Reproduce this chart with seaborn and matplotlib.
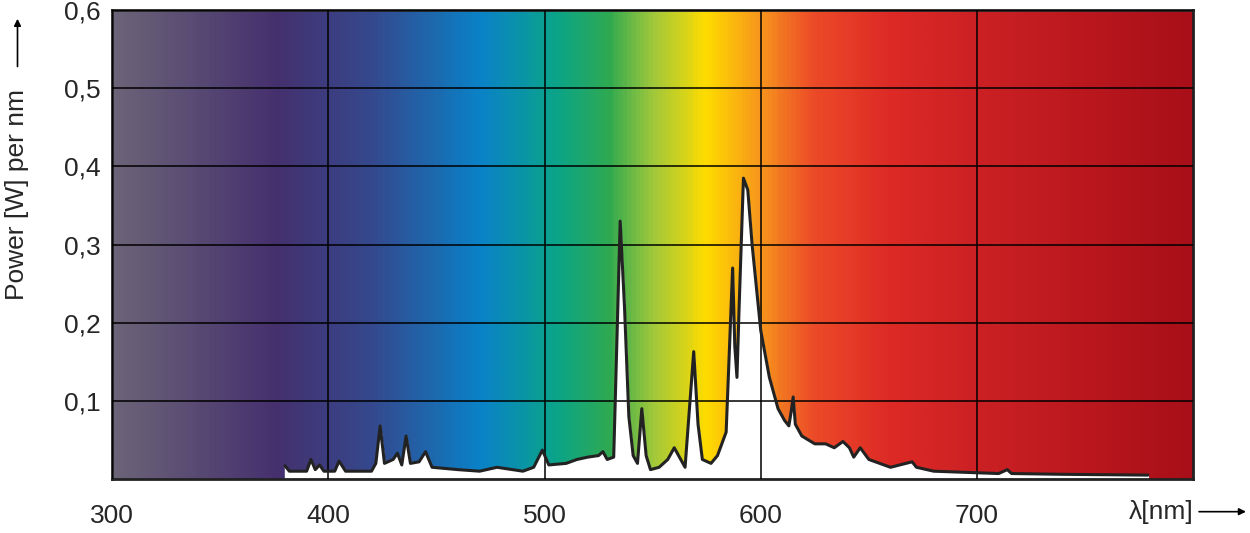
import matplotlib.pyplot as plt
import numpy as np
import pandas as pd
import seaborn as sns
from matplotlib.colors import LinearSegmentedColormap

sns.set_style('white')
plt.rcParams['font.family'] = ['Liberation Sans', 'DejaVu Sans']

# spectrum
wavelength = [380, 382, 390, 392, 394, 396, 398, 403, 405, 408, 420, 422, 424, 426, 430, 432,
              434, 436, 438, 442, 445, 448, 460, 470, 478, 490, 495, 499, 502, 510, 515,
              520, 525, 527, 529, 532, 535, 537, 539, 541, 543, 545, 547, 549, 553, 557,
              560, 562, 565, 569, 571, 573, 577, 580, 584, 587, 588, 589, 590, 592, 594,
              596, 600, 604, 608, 611, 613, 614, 615, 616, 619, 625, 630, 634, 638, 641,
              643, 646, 650, 660, 670, 672, 680, 700, 710, 714, 716, 740, 779]
power = [0.017, 0.010, 0.010, 0.025, 0.012, 0.018, 0.010, 0.010, 0.023, 0.010, 0.010, 0.020,
         0.068, 0.020, 0.025, 0.033, 0.018, 0.055, 0.020, 0.022, 0.035, 0.015, 0.012, 0.010,
         0.015, 0.010, 0.015, 0.037, 0.018, 0.020, 0.025, 0.028, 0.030, 0.035, 0.025, 0.028,
         0.330, 0.220, 0.080, 0.030, 0.020, 0.090, 0.030, 0.012, 0.015, 0.025, 0.040, 0.030,
         0.015, 0.163, 0.070, 0.025, 0.020, 0.030, 0.060, 0.270, 0.170, 0.130, 0.220, 0.385,
         0.370, 0.300, 0.190, 0.130, 0.090, 0.075, 0.068, 0.085, 0.105, 0.070, 0.055, 0.045,
         0.045, 0.040, 0.048, 0.040, 0.028, 0.040, 0.025, 0.015, 0.022, 0.015, 0.010, 0.008,
         0.007, 0.012, 0.007, 0.006, 0.005]
df = pd.DataFrame({'wl': wavelength, 'power': power})

x_ticks = [300, 400, 500, 600, 700]
y_ticks = [0.1, 0.2, 0.3, 0.4, 0.5, 0.6]

# background rainbow
stops = [(300, '#6c6478'), (375, '#45306e'), (420, '#35498e'), (470, '#0a82c8'),
         (505, '#0aa48a'), (530, '#30aa50'), (550, '#a0c83c'), (575, '#ffdc00'),
         (600, '#f7941d'), (625, '#ec4a28'), (660, '#dd2a26'), (700, '#cc2124'),
         (800, '#a80f18')]
cmap = LinearSegmentedColormap.from_list(
    'spec', [((w - 300) / 500, c) for w, c in stops])

fig = plt.figure(figsize=(12.5, 5.33), dpi=100)
ax = fig.add_axes([0.0896, 0.1013, 0.865, 0.8797])
ax.imshow(np.linspace(0, 1, 500)[None, :], cmap=cmap, aspect='auto',
          extent=[300, 800, 0, 0.6], zorder=0)
ax.grid(True, color='black', lw=1.1, zorder=1)
ax.fill_between(df.wl, 0, df.power, color='white', zorder=2)
sns.lineplot(data=df, x='wl', y='power', color='#222222', lw=2.2, ax=ax, zorder=3)

ax.set_xlim(300, 800)
ax.set_ylim(0, 0.6)
ax.set_xticks(x_ticks)
ax.set_yticks(y_ticks)
ax.set_xticklabels([str(t) for t in x_ticks], fontsize=19)
ax.set_yticklabels([f'{t:.1f}'.replace('.', ',') for t in y_ticks], fontsize=19)
ax.tick_params(axis='x', length=0, pad=18)
ax.tick_params(axis='y', length=0, pad=8)
ax.set_axisbelow(False)
for s in ax.spines.values():
    s.set_linewidth(2)
    s.set_color('#222222')
ax.set_xlabel('')
ax.set_ylabel('')

fig.text(0.014, 0.635, 'Power [W] per nm', rotation=90, fontsize=19,
         ha='center', va='center')
ax.annotate('', xy=(0.014, 0.97), xytext=(0.014, 0.87), xycoords='figure fraction',
            arrowprops=dict(arrowstyle='-|>', lw=1.2, color='black'))
fig.text(0.903, 0.04, 'λ[nm]', fontsize=19, ha='left', va='center')
ax.annotate('', xy=(0.999, 0.04), xytext=(0.957, 0.04), xycoords='figure fraction',
            arrowprops=dict(arrowstyle='-|>', lw=1.2, color='black'))

fig.savefig('out.png', dpi=100)
